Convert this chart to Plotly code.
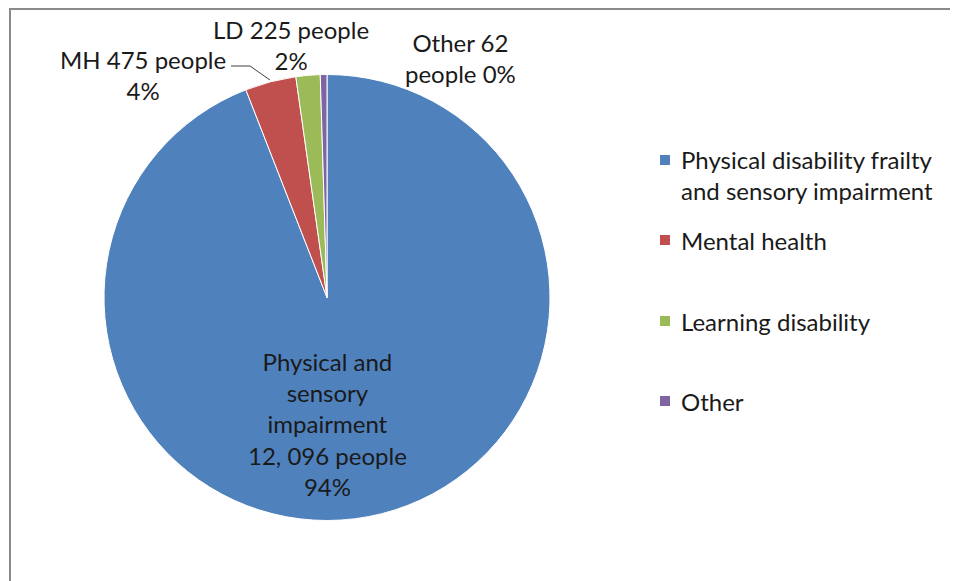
import plotly.graph_objects as go

categories = ["Physical disability frailty and sensory impairment", "Mental health",
              "Learning disability", "Other"]
legend_text = ["Physical disability frailty<br>and sensory impairment", "Mental health",
               "Learning disability", "Other"]
values = [12096, 475, 225, 62]
colors = ["#4F81BD", "#C0504D", "#9BBB59", "#8064A2"]
slice_labels = [
    "Physical and<br>sensory<br>impairment<br>12, 096 people<br>94%",
    "MH 475 people<br>4%",
    "LD 225 people<br>2%",
    "Other 62<br>people 0%",
]

OFF = 8  # page body margin
W, H = 958 - OFF, 581 - OFF
FONT = "Lato, 'Open Sans', sans-serif"
TXT = "#1a1a1a"
FS = 24

def px(x):
    return (x - OFF) / W

def py(y):
    return 1 - (y - OFF) / H

fig = go.Figure()
fig.add_trace(go.Pie(
    labels=categories, values=values, sort=False, direction="clockwise", rotation=0,
    marker=dict(colors=colors, line=dict(color="white", width=1)),
    textinfo="none", hoverinfo="label+value+percent", showlegend=False,
    domain=dict(x=[px(104), px(550)], y=[py(521), py(74)]),
))

label_pos = [(327, 424), (143, 75), (291, 45), (460, 58)]
annotations = []
for txt, (x, y) in zip(slice_labels, label_pos):
    annotations.append(dict(x=px(x), y=py(y), xref="paper", yref="paper", text=txt,
                            showarrow=False, align="center", xanchor="center", yanchor="middle",
                            font=dict(family=FONT, size=FS, color=TXT)))

shapes = []
shapes.append(dict(type="path", xref="paper", yref="paper",
                   path=f"M {px(231)},{py(66)} L {px(250)},{py(66)} L {px(270)},{py(80)}",
                   line=dict(color="#404040", width=1)))
shapes.append(dict(type="rect", xref="paper", yref="paper", x0=px(10), y0=-0.02, x1=1.02, y1=py(9),
                   line=dict(color="#8a8a8a", width=2), fillcolor="rgba(0,0,0,0)"))

legend_y = [175, 240, 321, 401]
for i, (txt, col, y) in enumerate(zip(legend_text, colors, legend_y)):
    sy = 160 if i == 0 else y
    shapes.append(dict(type="rect", xref="paper", yref="paper",
                       x0=px(660), x1=px(670), y0=py(sy + 5), y1=py(sy - 5),
                       fillcolor=col, line=dict(width=0)))
    annotations.append(dict(x=px(679), y=py(y), xref="paper", yref="paper", text=txt,
                            showarrow=False, align="left", xanchor="left", yanchor="middle",
                            font=dict(family=FONT, size=FS, color=TXT)))

fig.update_layout(width=W, height=H, margin=dict(l=0, r=0, t=0, b=0),
                  paper_bgcolor="white", plot_bgcolor="white",
                  annotations=annotations, shapes=shapes, showlegend=False)

fig.write_html("out.html")
